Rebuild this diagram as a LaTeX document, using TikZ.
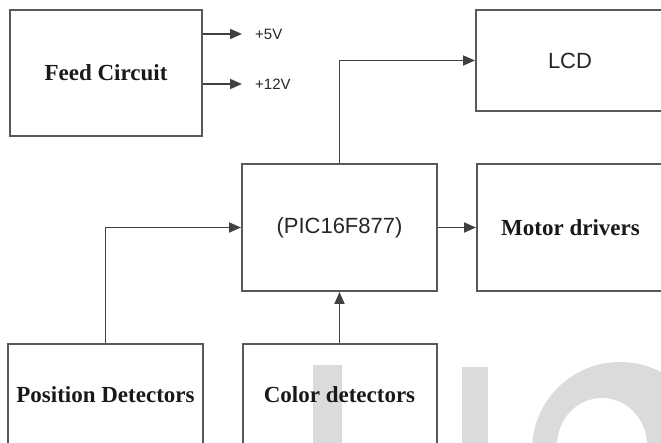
\documentclass[tikz,border=0pt]{standalone}
\usepackage{fontspec}
\setmainfont{Liberation Serif}
\setsansfont{Liberation Sans}
\usepackage{xcolor}
\usepackage{tikz}
\usetikzlibrary{positioning, calc, arrows.meta}

\begin{document}
\begin{tikzpicture}[
    x=1pt, y=1pt,
    node distance=26pt and 38pt,
    block/.style={
        draw=black!65,
        line width=2pt,
        inner sep=0pt,
        align=center
    },
    boldnode/.style={block, text=black!90, font=\fontsize{23}{26}\selectfont\bfseries},
    sansnode/.style={block, text=black!85, font=\sffamily\fontsize{22}{26}\selectfont},
    voltnode/.style={anchor=west, inner sep=0pt, text=black!85, font=\sffamily\fontsize{15}{17}\selectfont},
    arrow/.style={-{Triangle[length=12pt, width=10pt]}, line width=1.8pt, draw=black!75},
    wmark/.style={fill=black!14, draw=none}
]
\useasboundingbox (0,0) rectangle (661,443);
% watermark in the corner
\begin{scope}
\clip (0,0) rectangle (661,443);
\fill[wmark] (313,0) rectangle (342,78);
\fill[wmark] (462,0) rectangle (488,76);
\fill[wmark, even odd rule] (620,-7) circle[radius=88] (602,-2) ellipse[x radius=45, y radius=47];
\end{scope}
% blocks
\node[boldnode, minimum width=192pt, minimum height=126pt] (feed) at (106,370) {Feed Circuit};
\node[sansnode, minimum width=195pt, minimum height=127pt] (pic) [below right=26pt and 38pt of feed] {(PIC16F877)};
\node[sansnode, minimum width=188pt, minimum height=101pt] (lcd) [above right=51pt and 37pt of pic] {LCD};
\node[boldnode, minimum width=187pt, minimum height=127pt] (motor) [right=38pt of pic] {Motor drivers};
\node[boldnode, minimum width=195pt, minimum height=102pt] (position) [below left=51pt and 37pt of pic] {Position Detectors};
\node[boldnode, minimum width=194pt, minimum height=102pt] (color) [below=51pt of pic] {Color detectors};
\node[voltnode] (v5) at (255,409) {+5V};
\node[voltnode] (v12) at (255,359) {+12V};
% connectors
\draw[arrow, shorten >=13pt] (feed.east |- v5) -- (v5.west);
\draw[arrow, shorten >=13pt] (feed.east |- v12) -- (v12.west);
\draw[arrow] (pic.north) |- (lcd.west);
\draw[arrow] (pic.east) -- (motor.west);
\draw[arrow] (position.north) |- (pic.west);
\draw[arrow] (color.north) -- (pic.south);
\end{tikzpicture}
\end{document}
